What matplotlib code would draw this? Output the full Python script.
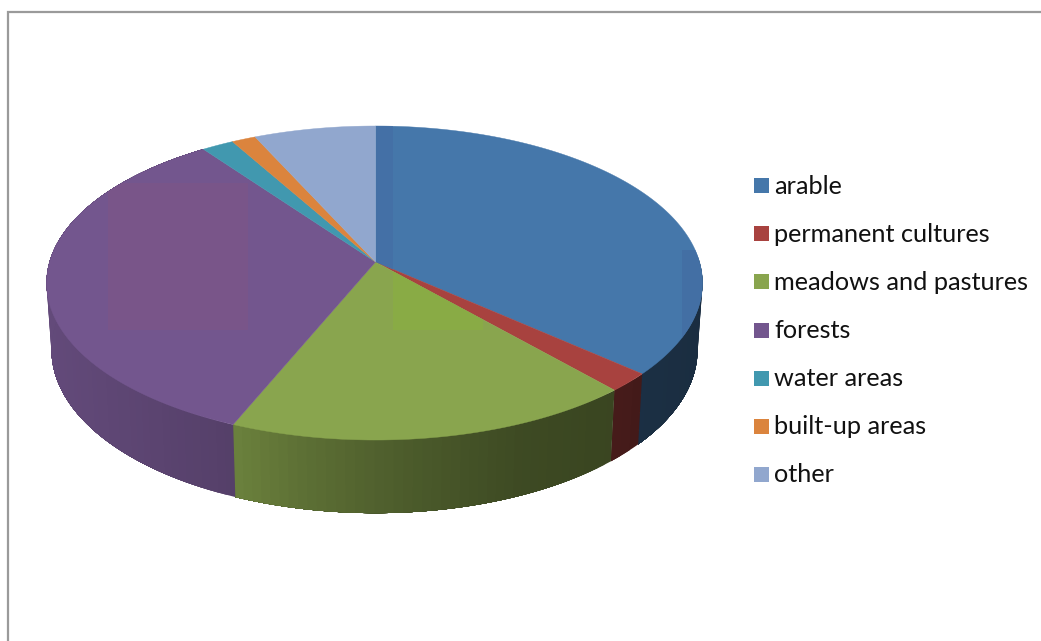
import numpy as np
import matplotlib
matplotlib.use("Agg")
import matplotlib.pyplot as plt
from matplotlib.patches import Polygon, Rectangle
from matplotlib.colors import to_rgb

categories = ["arable", "permanent cultures", "meadows and pastures", "forests",
              "water areas", "built-up areas", "other"]
values = [36.5, 1.95, 17.8, 33.8, 1.8, 1.35, 6.8]
colors = ["#4577AA", "#A8423F", "#89A54E", "#73568E", "#4198AF", "#DB843D", "#91A7CE"]

fig = plt.figure(figsize=(10.41, 6.41), dpi=100)
ax = fig.add_axes([0, 0, 1, 1])
ax.set_xlim(0, 1041)
ax.set_ylim(641, 0)
ax.axis("off")

CX, CY = 375.5, 262.0
A, B, C = 154.2, 326.0, 0.1338


def project(theta, bottom=False):
    s, u = np.sin(theta), np.cos(theta)
    w = 1 + C * u
    dx = B * s / w
    dx = np.where(dx > 0, dx * 0.994, dx)
    dy = -A * u / w
    if bottom:
        return CX + 0.985 * dx, 328 + 1.04 * dy + 21 * 1.04 * 0 
    return CX + dx, CY + dy


def shade(x):
    return np.interp(x, [46, 232, 235, 300, 400, 520, 612, 640, 700],
                     [0.86, 0.74, 0.78, 0.68, 0.56, 0.45, 0.42, 0.40, 0.38])


# frame
ax.plot([1041, 8, 8], [11.5, 11.5, 641], color="#9a9a9a", lw=1.6, solid_joinstyle="miter", zorder=1)

fractions = np.array(values) / sum(values)
edges = np.concatenate([[0], np.cumsum(fractions)]) * 2 * np.pi

for i, col in enumerate(colors):
    t = np.linspace(edges[i], edges[i + 1], max(int((edges[i + 1] - edges[i]) * 40), 3))
    base = np.array(to_rgb(col))
    # each band runs to the end of its slice, the next band is painted over it
    for a, b in zip(t[:-1], t[1:]):
        if np.cos((a + b) / 2) > 0.05:
            continue
        arc = np.linspace(a, edges[i + 1], 40)
        xt, yt = project(arc)
        xb, yb = project(arc, True)
        pts = list(zip(xt, yt)) + list(zip(xb[::-1], yb[::-1]))
        xm, _ = project((a + b) / 2)
        c = tuple(np.clip(base * shade(float(xm)), 0, 1))
        ax.add_patch(Polygon(pts, closed=True, facecolor=c, edgecolor="none", zorder=2))

tops = []
for i, col in enumerate(colors):
    t = np.linspace(edges[i], edges[i + 1], 200)
    xs, ys = project(t)
    pts = [(CX, CY)] + list(zip(xs, ys))
    p = Polygon(pts, closed=True, facecolor=col, edgecolor=col, lw=0.3, zorder=3)
    ax.add_patch(p)
    tops.append(p)

# lighter and darker blocks on the top face
for idx, (x0, y0, w, h, col) in [
    (3, (108, 183, 140, 147, "#795589")),
    (2, (393, 262, 90, 68, "#89AB45")),
    (0, (376, 120, 17, 160, "#4470A6")),
    (0, (682, 250, 25, 90, "#436FA4")),
]:
    r = Rectangle((x0, y0), w, h, facecolor=col, edgecolor="none", zorder=4)
    ax.add_patch(r)
    r.set_clip_path(tops[idx])

# legend
rows = [185, 233, 281.5, 330, 378, 426, 474]
for name, col, y in zip(categories, colors, rows):
    ax.add_patch(Rectangle((754, y - 7.5), 15, 15, facecolor=col, edgecolor="none", zorder=5))
    ax.text(774, y + 1, name, family="Lato", fontsize=18.15, color="#111111", va="center", ha="left", zorder=5)

fig.savefig("out.png", dpi=100)
